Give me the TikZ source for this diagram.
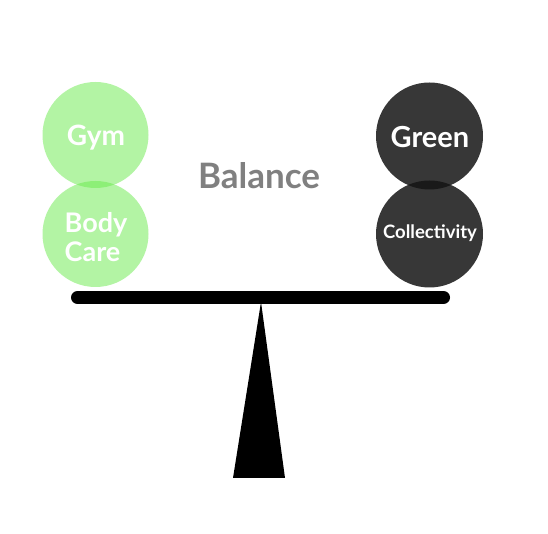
\documentclass[tikz,border=0pt]{standalone}
\usepackage{fontspec}
\setmainfont{Lato}[UprightFont=* Bold]
\definecolor{lgreen}{RGB}{105,235,75}
\definecolor{dgray}{RGB}{20,20,20}
\definecolor{tgray}{RGB}{128,128,128}
\begin{document}
\begin{tikzpicture}[x=1pt,y=1pt,
  gball/.style={circle,fill=lgreen,fill opacity=0.5,minimum size=106pt,inner sep=0pt},
  dball/.style={circle,fill=dgray,fill opacity=0.85,minimum size=107pt,inner sep=0pt},
  lbl/.style={text=white,font=\fontsize{28}{29}\selectfont}]
\useasboundingbox (0,0) rectangle (548,534);
\fill[white] (0,0) rectangle (548,534);
\node[gball] (gym) at (95.5,399) {};
\node[gball] (body) at (95.5,300) {};
\node[dball] (green) at (429.5,398) {};
\node[dball] (coll) at (429.5,300) {};
\node[lbl] (gymt) at (96,396) {Gym};
\node[lbl,align=left,font=\fontsize{27}{29}\selectfont] (bodyt) at (96,297) {Body\\Care};
\node[lbl,font=\fontsize{29}{30}\selectfont] (greent) at (430,397) {Green};
\node[lbl,font=\fontsize{18.5}{20}\selectfont] (collt) at (430,301) {Collectivity};
\node[text=tgray,font=\fontsize{35}{36}\selectfont] (bal) at (259,358) {Balance};
\coordinate (bl) at (77.5,236.5);
\coordinate (br) at (443.5,236.5);
\draw[line width=13pt,line cap=round] (bl) -- (br);
\coordinate (apex) at (261,232);
\coordinate (tl) at (233,56);
\coordinate (tr) at (285,56);
\fill (apex) -- (tl) -- (tr) -- cycle;
\end{tikzpicture}
\end{document}
